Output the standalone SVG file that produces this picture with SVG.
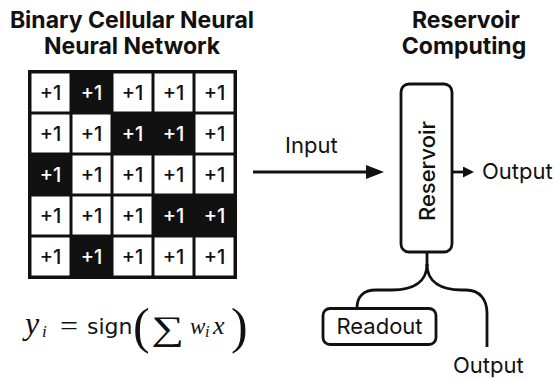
<svg xmlns="http://www.w3.org/2000/svg" width="555" height="381" viewBox="0 0 555 381">
  <style>
    .title { font-family: Inter, "Liberation Sans", sans-serif; font-weight: 700; font-size: 23px; fill: #111; text-anchor: middle; }
    .lbl { font-family: Inter, "Liberation Sans", sans-serif; font-weight: 400; font-size: 22px; fill: #111; }
    .cell-w { fill: #fff; }
    .val { font-family: Inter, "Liberation Sans", sans-serif; font-weight: 500; font-size: 20px; text-anchor: middle; }
    .val-d { fill: #111; }
    .val-l { fill: #fff; }
    .box { fill: #fff; stroke: #111; stroke-width: 2.8; }
    .wire { fill: none; stroke: #111; stroke-width: 2.8; }
    .math { font-family: "Liberation Serif", "DejaVu Serif", serif; font-style: italic; fill: #111; }
    .sym { font-family: "Liberation Serif", "DejaVu Serif", serif; fill: #111; }
  </style>
  <defs>
    <marker id="headBig" markerUnits="userSpaceOnUse" viewBox="0 0 18 14" refX="0" refY="7" markerWidth="18" markerHeight="14" orient="auto">
      <path d="M0,0 L18,7 L0,14 z" fill="#111"/>
    </marker>
    <marker id="headSmall" markerUnits="userSpaceOnUse" viewBox="0 0 11 11" refX="0" refY="5.5" markerWidth="11" markerHeight="11" orient="auto">
      <path d="M0,0 L11,5.5 L0,11 z" fill="#111"/>
    </marker>
  </defs>

  <rect width="555" height="381" fill="#fff"/>

  <!-- titles -->
  <text class="title" x="132" y="28">Binary Cellular Neural</text>
  <text class="title" x="132" y="54">Neural Network</text>
  <text class="title" x="466" y="28">Reservoir</text>
  <text class="title" x="464" y="54">Computing</text>

  <!-- cellular grid: dark frame, white cells inset -->
  <g id="grid">
    <rect x="28" y="70" width="209" height="209" fill="#111"/>
    <!-- row 0 -->
    <rect class="cell-w" x="31.5" y="73.5" width="38" height="38"/>
    <rect class="cell-w" x="113.5" y="73.5" width="38" height="38"/>
    <rect class="cell-w" x="154.5" y="73.5" width="38" height="38"/>
    <rect class="cell-w" x="195.5" y="73.5" width="38" height="38"/>
    <!-- row 1 -->
    <rect class="cell-w" x="31.5" y="114.5" width="38" height="38"/>
    <rect class="cell-w" x="72.5" y="114.5" width="38" height="38"/>
    <rect class="cell-w" x="195.5" y="114.5" width="38" height="38"/>
    <!-- row 2 -->
    <rect class="cell-w" x="72.5" y="155.5" width="38" height="38"/>
    <rect class="cell-w" x="113.5" y="155.5" width="38" height="38"/>
    <rect class="cell-w" x="154.5" y="155.5" width="38" height="38"/>
    <rect class="cell-w" x="195.5" y="155.5" width="38" height="38"/>
    <!-- row 3 -->
    <rect class="cell-w" x="31.5" y="196.5" width="38" height="38"/>
    <rect class="cell-w" x="72.5" y="196.5" width="38" height="38"/>
    <rect class="cell-w" x="113.5" y="196.5" width="38" height="38"/>
    <!-- row 4 -->
    <rect class="cell-w" x="31.5" y="237.5" width="38" height="38"/>
    <rect class="cell-w" x="113.5" y="237.5" width="38" height="38"/>
    <rect class="cell-w" x="154.5" y="237.5" width="38" height="38"/>
    <rect class="cell-w" x="195.5" y="237.5" width="38" height="38"/>

    <!-- cell values -->
    <text class="val val-d" x="50.5" y="100">+1</text>
    <text class="val val-l" x="91.5" y="100">+1</text>
    <text class="val val-d" x="132.5" y="100">+1</text>
    <text class="val val-d" x="173.5" y="100">+1</text>
    <text class="val val-d" x="214.5" y="100">+1</text>

    <text class="val val-d" x="50.5" y="141">+1</text>
    <text class="val val-d" x="91.5" y="141">+1</text>
    <text class="val val-l" x="132.5" y="141">+1</text>
    <text class="val val-l" x="173.5" y="141">+1</text>
    <text class="val val-d" x="214.5" y="141">+1</text>

    <text class="val val-l" x="50.5" y="182">+1</text>
    <text class="val val-d" x="91.5" y="182">+1</text>
    <text class="val val-d" x="132.5" y="182">+1</text>
    <text class="val val-d" x="173.5" y="182">+1</text>
    <text class="val val-d" x="214.5" y="182">+1</text>

    <text class="val val-d" x="50.5" y="223">+1</text>
    <text class="val val-d" x="91.5" y="223">+1</text>
    <text class="val val-d" x="132.5" y="223">+1</text>
    <text class="val val-l" x="173.5" y="223">+1</text>
    <text class="val val-l" x="214.5" y="223">+1</text>

    <text class="val val-d" x="50.5" y="264">+1</text>
    <text class="val val-l" x="91.5" y="264">+1</text>
    <text class="val val-d" x="132.5" y="264">+1</text>
    <text class="val val-d" x="173.5" y="264">+1</text>
    <text class="val val-d" x="214.5" y="264">+1</text>
  </g>

  <!-- update rule: y_i = sign( sum w_i x ) -->
  <g id="formula">
    <text class="math" x="25" y="334" font-size="32">y</text>
    <text class="math" x="42" y="337" font-size="17">i</text>
    <text class="sym" x="60" y="335" font-size="27" textLength="18" lengthAdjust="spacingAndGlyphs">=</text>
    <text x="87" y="334" font-family="'DejaVu Sans', sans-serif" font-size="22" fill="#111">sign</text>
    <text class="sym" x="133" y="343" font-size="50">(</text>
    <text class="sym" x="0" y="0" font-size="34" transform="translate(151 340) scale(1.35 1)">∑</text>
    <text class="math" x="190" y="334" font-size="23">w</text>
    <text class="math" x="205" y="337" font-size="16">i</text>
    <text class="math" x="213" y="334" font-size="26">x</text>
    <text class="sym" x="231" y="343" font-size="50">)</text>
  </g>

  <!-- connectors -->
  <g id="connectors">
    <line class="wire" x1="253" y1="172" x2="366" y2="172" stroke-width="3" marker-end="url(#headBig)"/>
    <line class="wire" x1="452" y1="172" x2="463" y2="172" marker-end="url(#headSmall)"/>
    <path class="wire" d="M427,252 V266"/>
    <path class="wire" d="M427,264 C427,283 412,290 392,290 H376 C363,290 357,297 357,308"/>
    <path class="wire" d="M427,264 C427,283 442,290 462,290 H466 C480,290 487,300 487,313 V347"/>
  </g>

  <g id="input-label">
    <text class="lbl" x="285" y="153" font-size="21">Input</text>
  </g>

  <g id="reservoir">
    <rect class="box" x="401" y="84" width="51" height="168" rx="8"/>
    <text x="0" y="0" font-family="Inter, 'Liberation Sans', sans-serif" font-weight="500" font-size="22" fill="#111" text-anchor="middle" transform="translate(435 171) rotate(-90)">Reservoir</text>
  </g>

  <g id="output-right">
    <text class="lbl" x="482" y="179">Output</text>
  </g>

  <g id="readout">
    <rect class="box" x="323" y="308.5" width="113" height="36" rx="7"/>
    <text class="lbl" x="379.5" y="334" text-anchor="middle">Readout</text>
  </g>

  <g id="output-bottom">
    <text class="lbl" x="453" y="373">Output</text>
  </g>
</svg>
